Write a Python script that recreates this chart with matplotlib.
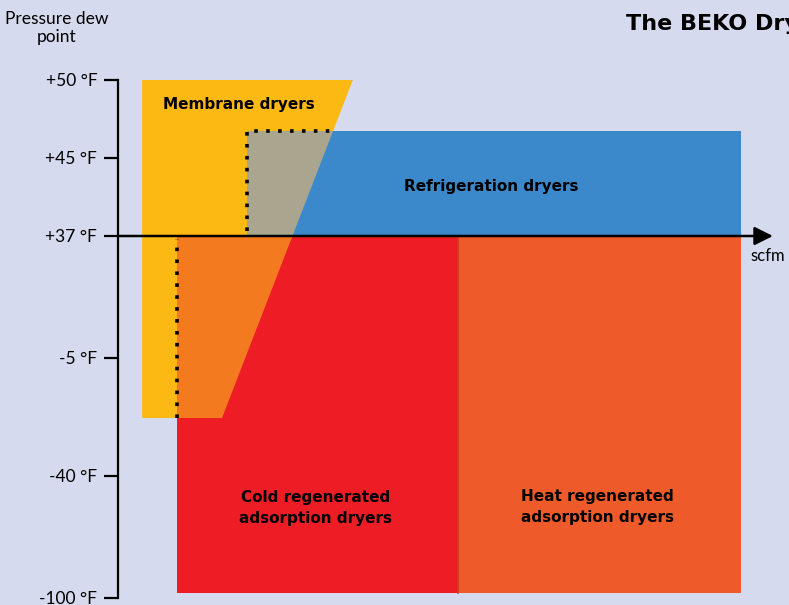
import numpy as np
import matplotlib.pyplot as plt
from matplotlib.patches import Polygon, Rectangle

# dew point ticks (deg F) and their relative height on the printed axis
tick_vals = [-100, -40, -5, 37, 45, 50]
tick_levels = [0, 122, 240, 362, 440, 518]
tick_labels = ['-100 °F', '-40 °F', '-5 °F', '+37 °F', '+45 °F', '+50 °F']

# dryer ranges: flow (arbitrary scfm units 0-100) x dew point (deg F)
membrane_x = [3.6, 35.0, 15.5, 3.6]
membrane_y = [50, 50, -22.8, -22.8]
refrig_x = (19.2, 92.8)
refrig_y = (37, 46.7)
cold_x = (8.8, 50.7)
cold_y = (-97.5, 37)
heat_x = (50.7, 92.8)
heat_y = (-97.5, 37)

BG = '#D5DAEE'
YELLOW = '#FDB913'
BLUE = '#3B89CB'
RED = '#EE1C25'
HEAT = '#EF5A2B'
MIX_BLUE = '#A9A58E'
MIX_RED = '#F47A20'


def fwd(v):
    return np.interp(v, tick_vals, tick_levels)


def inv(l):
    return np.interp(l, tick_levels, tick_vals)


plt.rcParams['font.family'] = ['Lato', 'DejaVu Sans']

fig = plt.figure(figsize=(7.89, 6.05), dpi=100, facecolor=BG)
ax = fig.add_axes([118 / 789, 7 / 605, 671 / 789, 518 / 605])
ax.set_facecolor(BG)
ax.set_yscale('function', functions=(fwd, inv))
ax.set_xlim(0, 100)
ax.set_ylim(-100, 50)

memb_xy = list(zip(membrane_x, membrane_y))
ax.add_patch(Polygon(memb_xy, closed=True, facecolor=YELLOW,
                     edgecolor='none', zorder=1))
rects = []
for (x0, x1), (y0, y1), col in [(refrig_x, refrig_y, BLUE),
                                (cold_x, cold_y, RED),
                                (heat_x, heat_y, HEAT)]:
    r = Rectangle((x0, y0), x1 - x0, y1 - y0, facecolor=col,
                  edgecolor='none', zorder=2)
    ax.add_patch(r)
    rects.append(r)
# slight shade where the two adsorption blocks meet
ax.plot([heat_x[0], heat_x[0]], [heat_y[0], heat_y[1]], color='#C8401E',
        lw=1.2, zorder=2.5)

# overlap of membrane range with refrigeration / cold regenerated
for r, col in [(rects[0], MIX_BLUE), (rects[1], MIX_RED)]:
    p = Polygon(memb_xy, closed=True, facecolor=col, edgecolor='none', zorder=3)
    ax.add_patch(p)
    p.set_clip_path(r)

# dotted edges of the hidden rectangles (slanted edge is straight on screen)
slope_x = np.interp(fwd(refrig_y[1]),
                    [fwd(membrane_y[2]), fwd(membrane_y[1])],
                    [membrane_x[2], membrane_x[1]])
dot = dict(color='black', lw=2.6, linestyle=(0, (1, 2.3)), zorder=4,
           dash_capstyle='butt')
ax.plot([refrig_x[0], refrig_x[0], slope_x],
        [refrig_y[0] + 0.5, refrig_y[1], refrig_y[1]], **dot)
ax.plot([cold_x[0], cold_x[0]], [membrane_y[2], 36], **dot)

# scfm arrow along +37 F
ax.annotate('', xy=(97.6, 37), xytext=(0, 37),
            arrowprops=dict(arrowstyle='-|>', lw=1.8, color='black',
                            mutation_scale=28, shrinkA=0, shrinkB=0),
            zorder=5, annotation_clip=False)
ax.text(94.3, 30, 'scfm', fontsize=12, va='center', ha='left')

# labels
bold = dict(fontsize=11, fontweight='bold', ha='center', va='center',
            zorder=6, family='DejaVu Sans')
ax.text(18.0, 48.46, 'Membrane dryers', **bold)
ax.text(55.7, 42.1, 'Refrigeration dryers', **bold)
ax.text(29.5, -55.7, 'Cold regenerated\nadsorption dryers', linespacing=1.45, **bold)
ax.text(71.4, -55.2, 'Heat regenerated\nadsorption dryers', linespacing=1.45, **bold)

# axis styling
for s in ['top', 'right', 'bottom']:
    ax.spines[s].set_visible(False)
ax.spines['left'].set_linewidth(1.6)
ax.set_xticks([])
ax.set_yticks(tick_vals)
ax.set_yticklabels(tick_labels)
ax.tick_params(axis='y', length=10, width=1.6, pad=5, labelsize=12.5)

fig.text(57 / 789, 1 - 28 / 605, 'Pressure dew\npoint', ha='center',
         va='center', fontsize=12.5, linespacing=1.1)
# title runs past the right edge, as in the original page crop
fig.text(626 / 789, 1 - 24 / 605, 'The BEKO Dryers', ha='left', va='center',
         fontsize=16, fontweight='bold', family='DejaVu Sans')

fig.savefig('out.png', dpi=100, facecolor=BG)
